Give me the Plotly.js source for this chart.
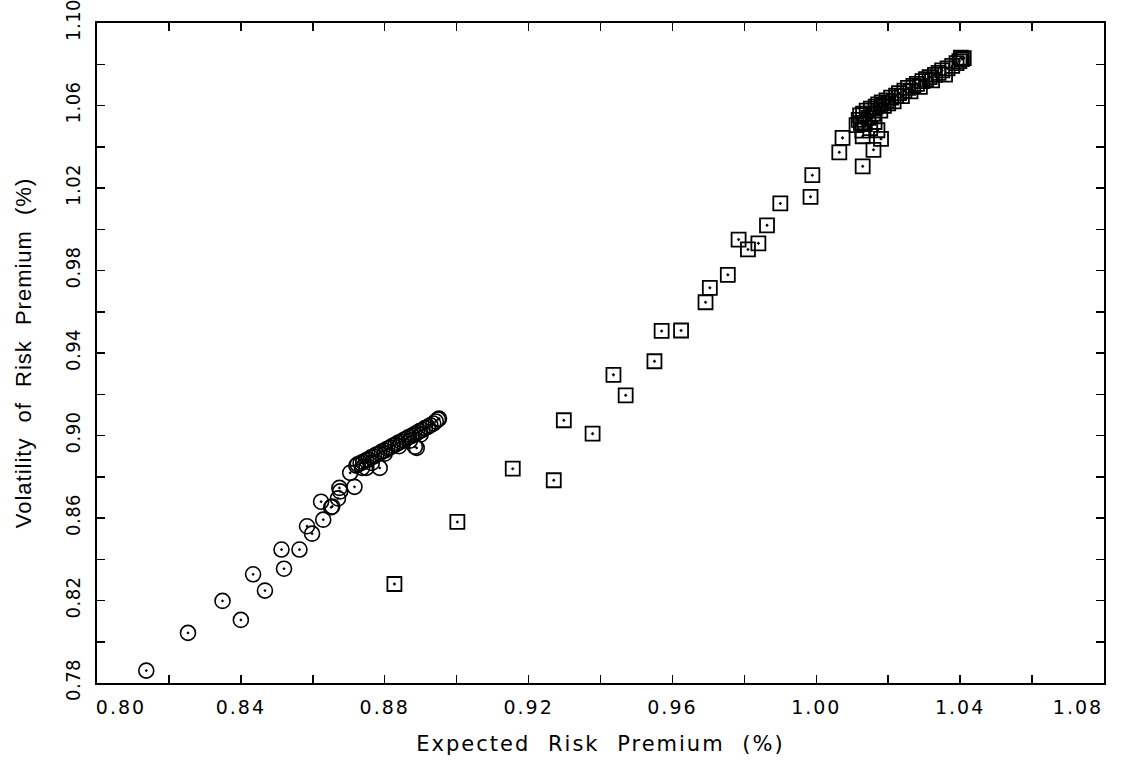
<!DOCTYPE html>
<html>
<head>
<meta charset="utf-8">
<script src="https://cdn.plot.ly/plotly-3.0.1.min.js"></script>
<style>
html,body{margin:0;padding:0;background:#fff;}
#chart{width:1136px;height:761px;}
#chart .xtick text{letter-spacing:2px !important;}
#chart .ytick text{letter-spacing:0.5px !important;}
#chart .xtitle{letter-spacing:2px !important; word-spacing:9px !important;}
#chart .ytitle{letter-spacing:1px !important; word-spacing:8px !important;}
</style>
</head>
<body>
<div id="chart"></div>
<script>
// Series 1: circles (Expected, Volatility)
const circleX = [0.8137,0.8253,0.8349,0.8400,0.8434,0.8467,0.8513,0.8520,0.8563,0.8584,0.8598,0.8623,0.8629,0.8651,0.8654,0.8670,0.8674,0.8676,0.8704,0.8716,0.8721,0.8737,0.8749,0.8764,0.8786,
  0.8725,0.8733,0.8740,0.8748,0.8755,0.8762,0.8770,0.8777,0.8785,0.8792,0.8800,0.8807,0.8815,0.8822,0.8830,0.8837,0.8845,0.8852,0.8860,0.8867,0.8875,0.8882,0.8890,0.8897,0.8905,0.8912,0.8920,0.8927,0.8935,0.8942,0.8948,0.8951,
  0.8800,0.8840,0.8870,0.8900,0.8889,0.8884];
const circleY = [0.7860,0.8043,0.8198,0.8106,0.8327,0.8248,0.8447,0.8354,0.8447,0.8560,0.8524,0.8679,0.8592,0.8652,0.8656,0.8695,0.8746,0.8729,0.8819,0.8751,0.8854,0.8843,0.8843,0.8867,0.8843,
  0.8860,0.8866,0.8872,0.8880,0.8884,0.8894,0.8899,0.8908,0.8913,0.8922,0.8927,0.8936,0.8942,0.8950,0.8956,0.8964,0.8970,0.8978,0.8984,0.8993,0.8998,0.9006,0.9013,0.9021,0.9027,0.9036,0.9042,0.9050,0.9058,0.9068,0.9078,0.9082,
  0.8912,0.8948,0.8975,0.9005,0.8940,0.8946];

// Series 2: squares (Expected, Volatility)
const squareX = [0.8827,0.9002,0.9156,0.9270,0.9298,0.9378,0.9436,0.9470,0.9550,0.9570,0.9624,0.9692,0.9704,0.9754,0.9784,0.9810,0.9839,0.9863,0.9900,0.9984,0.9989,1.0129,1.0064,1.0073,1.0159,1.0129,1.0180,1.0124,
  1.0112,1.0118,1.0122,1.0128,1.0130,1.0135,1.0140,1.0145,1.0150,1.0152,1.0158,1.0162,1.0165,1.0170,1.0172,1.0178,1.0182,1.0188,1.0195,1.0200,1.0208,1.0215,1.0222,1.0230,1.0238,1.0245,1.0255,1.0262,1.0270,1.0280,1.0288,1.0295,1.0305,1.0315,1.0322,1.0330,1.0340,1.0350,1.0358,1.0365,1.0378,1.0390,1.0398,1.0405,1.0410,1.0402];
const squareY = [0.8280,0.8581,0.8839,0.8783,0.9074,0.9009,0.9294,0.9195,0.9360,0.9507,0.9509,0.9646,0.9716,0.9779,0.9950,0.9902,0.9932,1.0019,1.0125,1.0157,1.0262,1.0305,1.0373,1.0443,1.0385,1.0451,1.0438,1.0516,
  1.0505,1.0530,1.0552,1.0478,1.0560,1.0510,1.0575,1.0540,1.0490,1.0585,1.0560,1.0520,1.0595,1.0480,1.0605,1.0575,1.0615,1.0598,1.0625,1.0610,1.0638,1.0620,1.0648,1.0660,1.0645,1.0672,1.0685,1.0668,1.0695,1.0705,1.0690,1.0718,1.0728,1.0738,1.0722,1.0748,1.0758,1.0770,1.0750,1.0780,1.0792,1.0805,1.0815,1.0825,1.0830,1.0832];

// Ticks
const xTickVals = [0.80,0.82,0.84,0.86,0.88,0.90,0.92,0.94,0.96,0.98,1.00,1.02,1.04,1.06,1.08];
const xTickText = ['0.80','','0.84','','0.88','','0.92','','0.96','','1.00','','1.04','','1.08'];
const yTickVals = [0.78,0.80,0.82,0.84,0.86,0.88,0.90,0.92,0.94,0.96,0.98,1.00,1.02,1.04,1.06,1.08,1.10];
const yTickText = ['0.78','','0.82','','0.86','','0.90','','0.94','','0.98','','1.02','','1.06','','1.10'];

const xTitle = 'Expected Risk Premium (%)';
const yTitle = 'Volatility of Risk Premium (%)';

const xFont = 'DejaVu Sans, sans-serif';
const yFont = 'Liberation Sans Narrow, DejaVu Sans Condensed, Arial Narrow, Liberation Sans, sans-serif';
const yTitleFont = 'Liberation Sans, Arial, sans-serif';

const traces = [
  {x: circleX, y: circleY, type: 'scatter', mode: 'markers', name: 'circles',
   marker: {symbol: 'circle-open-dot', size: 15, color: '#000', line: {color: '#000', width: 1.6}}},
  {x: squareX, y: squareY, type: 'scatter', mode: 'markers', name: 'squares',
   marker: {symbol: 'square-open-dot', size: 14, color: '#000', line: {color: '#000', width: 1.8}}}
];

const axisCommon = {
  showgrid: false, zeroline: false, showline: true, linecolor: '#000', linewidth: 2,
  mirror: 'ticks', ticks: 'inside', ticklen: 8, tickwidth: 1.5, tickcolor: '#000',
  ticklabeloverflow: 'allow'
};

const layout = {
  width: 1136, height: 761,
  margin: {l: 97, r: 32, t: 23, b: 78},
  paper_bgcolor: '#fff', plot_bgcolor: '#fff',
  showlegend: false,
  font: {family: xFont, color: '#000'},
  xaxis: Object.assign({}, axisCommon, {
    range: [0.80, 1.08], tickmode: 'array', tickvals: xTickVals, ticktext: xTickText,
    tickfont: {family: xFont, size: 19, color: '#000'},
    ticklabelstandoff: 6,
    title: {text: xTitle, font: {family: xFont, size: 21, color: '#000'}, standoff: 20}
  }),
  yaxis: Object.assign({}, axisCommon, {
    range: [0.78, 1.10], tickmode: 'array', tickvals: yTickVals, ticktext: yTickText,
    tickangle: -90,
    tickfont: {family: yFont, size: 20, color: '#000'},
    ticklabelstandoff: 7,
    title: {text: yTitle, font: {family: yTitleFont, size: 22, color: '#000'}, standoff: 23}
  })
};

Plotly.newPlot('chart', traces, layout, {displayModeBar: false, staticPlot: true}).then(function (gd) {
  // Nudge the end labels inward, as in the reference
  gd.querySelectorAll('.xtick text').forEach(function (t) {
    if (t.textContent === xTickText[0]) t.setAttribute('dx', '24');
    if (t.textContent === xTickText[xTickText.length - 1]) t.setAttribute('dx', '-26');
  });
});
</script>
</body>
</html>
